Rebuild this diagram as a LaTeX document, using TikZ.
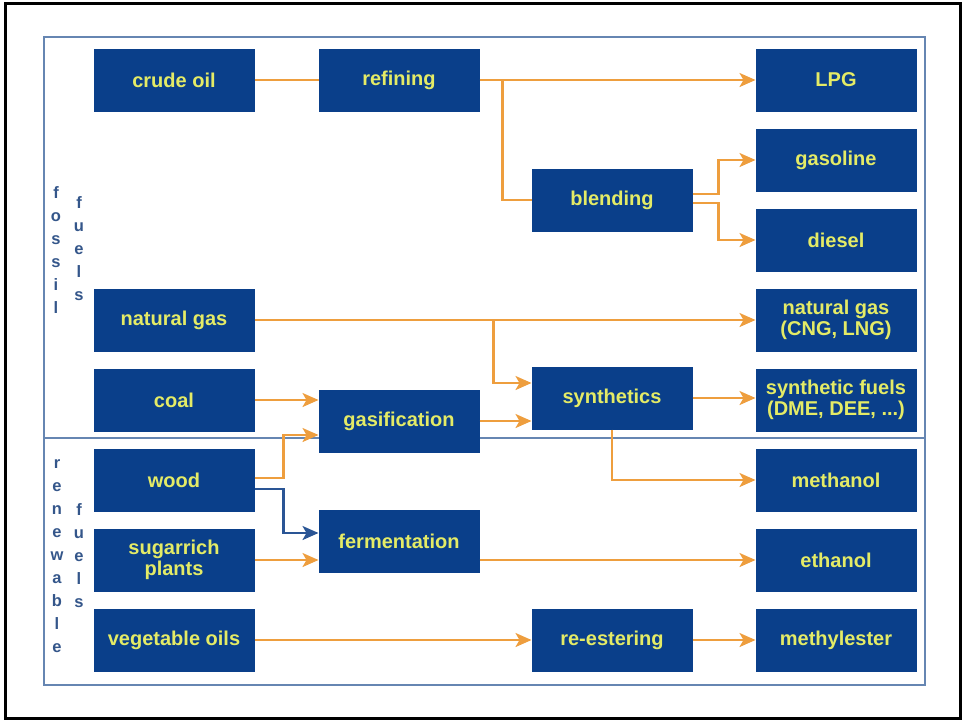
\documentclass[tikz,border=0pt]{standalone}
\usepackage{fontspec}
\setmainfont{Liberation Sans}
\usetikzlibrary{arrows.meta}
\usetikzlibrary{positioning}

\definecolor{boxblue}{HTML}{0A3F8A}
\definecolor{boxtext}{HTML}{E4EB66}
\definecolor{flowor}{HTML}{EE9E3E}
\definecolor{flowbl}{HTML}{2A5595}
\definecolor{frameblue}{HTML}{6686B2}
\definecolor{sidetext}{HTML}{34568A}

\newcommand\boxtxt{\fontsize{20}{21}\selectfont\bfseries}
\newcommand\sidetxt{\fontsize{16.5}{23}\selectfont\bfseries}

\tikzset{
  box/.style={rectangle, fill=boxblue, text=boxtext, font=\boxtxt, align=center,
    minimum width=161pt, minimum height=63pt, inner sep=2pt, outer sep=0pt},
  link/.style={draw=flowor, line width=2.2pt},
  flow/.style={link, -{Stealth[length=16pt, width=14pt, inset=4pt]}},
  wflow/.style={flow, draw=flowbl},
  side/.style={text=sidetext, font=\sidetxt, align=center, inner sep=0pt}
}

\begin{document}
\begin{tikzpicture}[x=1pt, y=-1pt]
    \useasboundingbox (0,0) rectangle (963,721);
    \draw[line width=3pt] (5,3) rectangle (960,718);

    % frame with the two fuel groups
    \draw[frameblue, line width=2.5pt] (44,37) rectangle (925,685);
    \draw[frameblue, line width=2.5pt] (44,438) -- (925,438);
    \node[side] (fossil) at (56,250) {f\\o\\s\\s\\i\\l};
    \node[side] (fuelsa) at (79,249) {f\\u\\e\\l\\s};
    \node[side] (renew) at (57,556) {r\\e\\n\\e\\w\\a\\b\\l\\e};
    \node[side] (fuelsb) at (79,556) {f\\u\\e\\l\\s};

    % sources
    \node[box] (crude) at (174,80) {crude oil};
    \node[box] (ngas) [below=177pt of crude] {natural gas};
    \node[box] (coal) [below=17pt of ngas] {coal};
    \node[box] (wood) [below=17pt of coal] {wood};
    \node[box] (sugar) [below=17pt of wood] {sugarrich\\plants};
    \node[box] (veg) [below=17pt of sugar] {vegetable oils};

    % products
    \node[box] (refining) [right=64pt of crude] {refining};
    \node[box] (lpg) [right=276pt of refining] {LPG};
    \node[box] (gasoline) [below=17pt of lpg] {gasoline};
    \node[box] (diesel) [below=17pt of gasoline] {diesel};
    \node[box] (cng) [below=17pt of diesel] {natural gas\\(CNG, LNG)};
    \node[box] (sfuels) [below=17pt of cng] {synthetic fuels\\(DME, DEE, ...)};
    \node[box] (methanol) [below=17pt of sfuels] {methanol};
    \node[box] (ethanol) [below=17pt of methanol] {ethanol};
    \node[box] (mester) [below=17pt of ethanol] {methylester};

    % processes
    \node[box] (blending) [left=63pt of diesel, yshift=40pt] {blending};
    \node[box] (synth) [left=63pt of sfuels, yshift=2pt] {synthetics};
    \node[box] (reester) [left=63pt of mester] {re-estering};
    \node[box] (gasif) [right=64pt of coal, yshift=-21pt] {gasification};
    \node[box] (ferment) [right=64pt of sugar, yshift=19pt] {fermentation};

    \path[link] (crude) -- (refining);
    \draw[flow] (refining) -- (lpg);
    \path (refining.east) ++(23pt,0) coordinate (r1);
    \draw[link] (r1) |- (blending.west);
    \draw[flow] ([yshift=6pt]blending.east) -- ++(26pt,0) |- (gasoline.west);
    \draw[flow] ([yshift=-3pt]blending.east) -- ++(26pt,0) |- (diesel.west);

    \draw[flow] (ngas) -- (cng);
    \path (ngas.east) ++(239pt,0) coordinate (n1);
    \draw[flow] (n1) |- ([yshift=15pt]synth.west);
    \draw[flow] (coal.east) -- (coal.east -| gasif.west);
    \draw[flow] ([yshift=2pt]wood.east) -- ++(29pt,0) |- ([yshift=-14pt]gasif.west);
    \draw[wflow] ([yshift=-9pt]wood.east) -- ++(29pt,0) |- ([yshift=8pt]ferment.west);
    \draw[flow] (gasif.east) -- (gasif.east -| synth.west);
    \draw[flow] (synth) -- (synth -| sfuels.west);
    \draw[flow] (synth.south) |- (methanol.west);

    \draw[flow] (sugar.east) -- (sugar.east -| ferment.west);
    \draw[flow] (ethanol.west -| ferment.east) -- (ethanol.west);
    \draw[flow] (veg) -- (reester);
    \draw[flow] (reester) -- (mester);
\end{tikzpicture}
\end{document}
